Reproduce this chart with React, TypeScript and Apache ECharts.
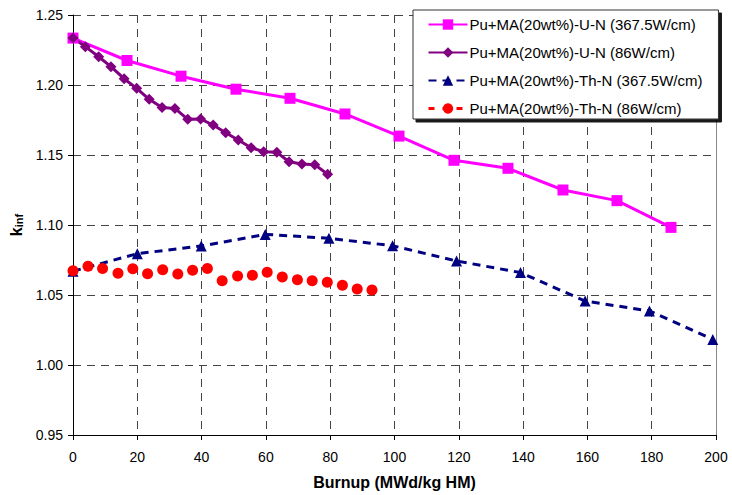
import React, { useEffect, useRef } from "react";
import * as echarts from "echarts";

const seriesNames = [
  "Pu+MA(20wt%)-U-N (367.5W/cm)",
  "Pu+MA(20wt%)-U-N (86W/cm)",
  "Pu+MA(20wt%)-Th-N (367.5W/cm)",
  "Pu+MA(20wt%)-Th-N (86W/cm)",
];

const uHighX = [0, 16.8, 33.6, 50.7, 67.5, 84.6, 101.4, 118.5, 135.3, 152.4, 169.2, 186.0];
const uHighY = [1.2335, 1.2175, 1.2063, 1.197, 1.1905, 1.1793, 1.1635, 1.1462, 1.1405, 1.125, 1.1174, 1.0983];

const uLowX = [0, 3.84, 7.99, 11.8, 15.9, 19.8, 23.7, 27.7, 31.7, 35.7, 39.7, 43.6, 47.5, 51.4, 55.4, 59.3, 63.4, 67.2, 71.2, 75.2, 79.2];
const uLowY = [1.2335, 1.2274, 1.2202, 1.2131, 1.2045, 1.1976, 1.1898, 1.184, 1.1833, 1.1755, 1.1757, 1.1714, 1.1659, 1.1607, 1.1552, 1.1524, 1.1519, 1.1452, 1.1436, 1.1431, 1.1362];

const thHighX = [0, 20.0, 39.9, 59.8, 79.6, 99.4, 119.3, 139.2, 159.3, 179.3, 199.0];
const thHighY = [1.067, 1.0795, 1.085, 1.0933, 1.0905, 1.0852, 1.0743, 1.066, 1.0457, 1.0386, 1.0183];

const thLowX = [0, 4.67, 9.2, 14.0, 18.6, 23.2, 27.9, 32.6, 37.2, 41.8, 46.4, 51.2, 55.8, 60.4, 65.1, 69.8, 74.4, 79.1, 83.8, 88.4, 93.0];
const thLowY = [1.0674, 1.0705, 1.069, 1.0655, 1.0688, 1.0652, 1.0681, 1.065, 1.0676, 1.069, 1.0602, 1.0636, 1.0641, 1.0662, 1.0629, 1.0609, 1.0602, 1.0591, 1.0569, 1.0543, 1.0536];

const xTicks = { min: 0, max: 200, interval: 20 };
const yTicks = { min: 0.95, max: 1.25, interval: 0.05 };

const zip = (xs: number[], ys: number[]) => xs.map((x, i) => [x, ys[i]]);

const FONT = "Liberation Sans";

export default function App() {
  const ref = useRef<HTMLDivElement>(null);
  useEffect(() => {
    if (!ref.current) return;
    const chart = echarts.init(ref.current, null, { renderer: "svg" });
    chart.setOption({
      animation: false,
      backgroundColor: "#fff",
      grid: { left: 73, right: 16, top: 15, bottom: 60, containLabel: false },
      legend: {
        orient: "vertical",
        left: 413,
        top: 10,
        padding: [7, 16, 3, 14],
        itemGap: 13,
        itemWidth: 39,
        itemHeight: 13,
        backgroundColor: "#fff",
        borderColor: "#333",
        borderWidth: 1,
        borderRadius: 0,
        shadowColor: "rgba(0,0,0,0.9)",
        shadowOffsetX: 3,
        shadowOffsetY: 3,
        shadowBlur: 1,
        textStyle: { fontFamily: FONT, fontSize: 15, color: "#000", padding: [0, 0, 0, -3] },
        data: [
          { name: seriesNames[0] },
          { name: seriesNames[1] },
          { name: seriesNames[2] },
          { name: seriesNames[3], lineStyle: { color: "#ff0000", width: 3, type: [6, 8], opacity: 1 } },
        ],
      },
      xAxis: {
        type: "value",
        min: xTicks.min,
        max: xTicks.max,
        interval: xTicks.interval,
        name: "Burnup (MWd/kg HM)",
        nameLocation: "middle",
        nameGap: 39,
        nameTextStyle: { fontFamily: FONT, fontSize: 16, fontWeight: "bold", color: "#000" },
        axisLine: { lineStyle: { color: "#000", width: 1 } },
        axisTick: { show: true, inside: false, length: 5, lineStyle: { color: "#000" } },
        axisLabel: { fontFamily: FONT, fontSize: 14, color: "#000", margin: 15 },
        splitLine: { show: true, lineStyle: { color: "#444", width: 1, type: [8, 6] } },
      },
      yAxis: [
        {
          type: "value",
          min: yTicks.min,
          max: yTicks.max,
          interval: yTicks.interval,
          name: "{k|k}{s|inf}",
          nameLocation: "middle",
          nameGap: 48,
          nameRotate: 90,
          nameTextStyle: {
            rich: {
              k: { fontFamily: FONT, fontSize: 16, fontWeight: "bold", color: "#000" },
              s: { fontFamily: FONT, fontSize: 11, fontWeight: "bold", color: "#000", padding: [6, 0, 0, 0] },
            },
          },
          axisLine: { show: true, lineStyle: { color: "#000", width: 1 } },
          axisTick: { show: true, inside: false, length: 5, lineStyle: { color: "#000" } },
          axisLabel: {
            fontFamily: FONT,
            fontSize: 14,
            color: "#000",
            margin: 10,
            formatter: (v: number) => v.toFixed(2),
          },
          splitLine: { show: true, lineStyle: { color: "#444", width: 1, type: [8, 6] } },
        },
        {
          type: "value",
          position: "right",
          min: yTicks.min,
          max: yTicks.max,
          interval: yTicks.interval,
          axisLine: { show: true, lineStyle: { color: "#888", width: 1 } },
          axisTick: { show: false },
          axisLabel: { show: false },
          splitLine: { show: false },
        },
      ],
      series: [
        {
          name: seriesNames[0],
          type: "line",
          data: zip(uHighX, uHighY),
          symbol: "rect",
          symbolSize: 11,
          itemStyle: { color: "#ff00ff" },
          lineStyle: { color: "#ff00ff", width: 3 },
        },
        {
          name: seriesNames[1],
          type: "line",
          data: zip(uLowX, uLowY),
          symbol: "diamond",
          symbolSize: 11,
          itemStyle: { color: "#800080" },
          lineStyle: { color: "#800080", width: 3 },
        },
        {
          name: seriesNames[2],
          type: "line",
          data: zip(thHighX, thHighY),
          symbol: "triangle",
          symbolSize: 11,
          itemStyle: { color: "#000080" },
          lineStyle: { color: "#000080", width: 3, type: [8, 6] },
        },
        {
          name: seriesNames[3],
          type: "line",
          data: zip(thLowX, thLowY),
          symbol: "circle",
          symbolSize: 11,
          itemStyle: { color: "#ff0000" },
          lineStyle: { color: "#ff0000", width: 3, type: [6, 8], opacity: 0 },
        },
      ],
    });
    return () => chart.dispose();
  }, []);
  return <div ref={ref} style={{ position: "fixed", left: 0, top: 0, width: 732, height: 495 }} />;
}
